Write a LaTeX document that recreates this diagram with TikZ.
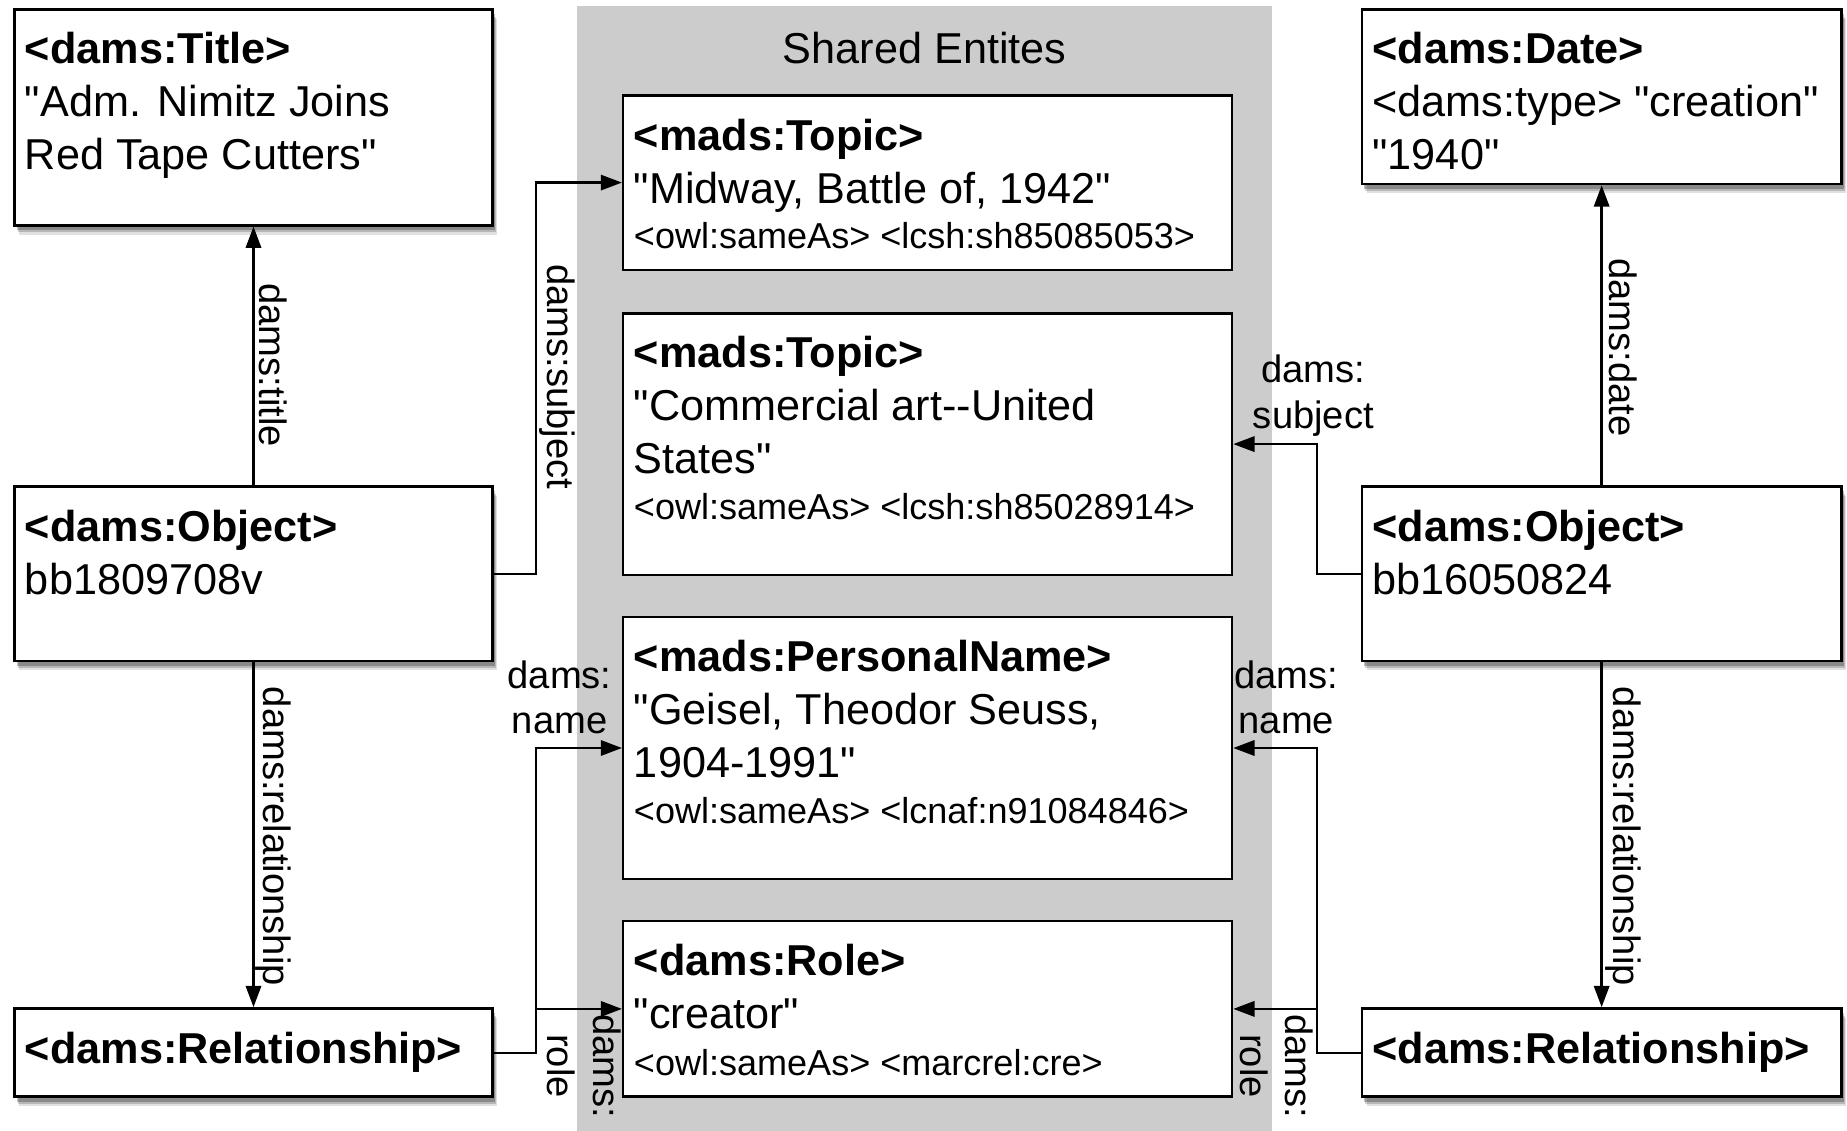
\documentclass[tikz,border=0pt]{standalone}
\usepackage{fontspec}
\newfontfamily\lsans{Liberation Sans}
\usetikzlibrary{arrows.meta,shadows}
\definecolor{band}{RGB}{204,204,204}
\begin{document}
\begin{tikzpicture}[x=1pt,y=-1pt,
  box/.style={draw=black, line width=2.4pt, fill=white, rectangle, inner sep=0pt, anchor=north west},
  outerbox/.style={box,
    drop shadow={shadow xshift=4pt, shadow yshift=-8pt, opacity=0.12, fill=black},
    drop shadow={shadow xshift=3pt, shadow yshift=-6pt, opacity=0.18, fill=black},
    drop shadow={shadow xshift=2pt, shadow yshift=-4pt, opacity=0.25, fill=black}},
  hd/.style={font=\fontsize{36.7}{44}\lsans\bfseries, anchor=base west, inner sep=0pt},
  tx/.style={font=\fontsize{36.7}{44}\lsans, anchor=base west, inner sep=0pt},
  sm/.style={font=\fontsize{30.6}{36}\lsans, anchor=base west, inner sep=0pt},
  lb/.style={font=\fontsize{32.4}{38.5}\lsans, inner sep=0pt, align=center},
  conn/.style={line width=2pt, -{Triangle[length=18pt,width=13pt]}}
]
\useasboundingbox[fill=white] (0,0) rectangle (1568,960);

% shared band
\node[fill=band, minimum width=590pt, minimum height=955pt, anchor=north west, inner sep=0pt] (shared) at (490,5) {};
\node[tx, anchor=base] (sharedT) at (785,54) {Shared Entites};

% outer boxes
\node[outerbox, minimum width=406pt, minimum height=183pt] (title) at (11,7) {};
\node[outerbox, minimum width=406pt, minimum height=148pt] (objL) at (11,412) {};
\node[outerbox, minimum width=406pt, minimum height=75pt] (relL) at (11,855) {};
\node[outerbox, minimum width=407pt, minimum height=148pt] (date) at (1155,7) {};
\node[outerbox, minimum width=407pt, minimum height=148pt] (objR) at (1155,412) {};
\node[outerbox, minimum width=407pt, minimum height=75pt] (relR) at (1155,855) {};

% inner boxes
\node[box, line width=2pt, minimum width=517pt, minimum height=148pt] (topic1) at (528,80) {};
\node[box, line width=2pt, minimum width=517pt, minimum height=222pt] (topic2) at (528,265) {};
\node[box, line width=2pt, minimum width=517pt, minimum height=222pt] (pn) at (528,523) {};
\node[box, line width=2pt, minimum width=517pt, minimum height=149pt] (role) at (528,781) {};

% texts outer left
\node[hd] (titleA) at (21,54) {<dams:Title>};
\node[tx] (titleB) at (21,99) {"Adm. Nimitz Joins};
\node[tx] (titleC) at (21,144) {Red Tape Cutters"};
\node[hd] (objLA) at (21,460) {<dams:Object>};
\node[tx] (objLB) at (21,505) {bb1809708v};
\node[hd] (relLA) at (21,903) {<dams:Relationship>};

% texts outer right
\node[hd] (dateA) at (1165,54) {<dams:Date>};
\node[tx] (dateB) at (1165,99) {<dams:type> "creation"};
\node[tx] (dateC) at (1165,144) {"1940"};
\node[hd] (objRA) at (1165,460) {<dams:Object>};
\node[tx] (objRB) at (1165,505) {bb16050824};
\node[hd] (relRA) at (1165,903) {<dams:Relationship>};

% texts inner
\node[hd] (t1A) at (538,128) {<mads:Topic>};
\node[tx] (t1B) at (538,173) {"Midway, Battle of, 1942"};
\node[sm] (t1C) at (538,211) {<owl:sameAs> <lcsh:sh85085053>};
\node[hd] (t2A) at (538,312) {<mads:Topic>};
\node[tx] (t2B) at (538,357) {"Commercial art--United};
\node[tx] (t2C) at (538,402) {States"};
\node[sm] (t2D) at (538,441) {<owl:sameAs> <lcsh:sh85028914>};
\node[hd] (pnA) at (538,570) {<mads:PersonalName>};
\node[tx] (pnB) at (538,615) {"Geisel, Theodor Seuss,};
\node[tx] (pnC) at (538,660) {1904-1991"};
\node[sm] (pnD) at (538,699) {<owl:sameAs> <lcnaf:n91084846>};
\node[hd] (roleA) at (538,828) {<dams:Role>};
\node[tx] (roleB) at (538,873) {"creator"};
\node[sm] (roleC) at (538,913) {<owl:sameAs> <marcrel:cre>};

% junction columns
\coordinate (jl) at (455,0);
\coordinate (jr) at (1118,0);

% connectors
\draw[conn] (objL.north) -- (title.south);
\draw[conn] (objL.south) -- (relL.north);
\draw[conn] (objR.north) -- (date.south);
\draw[conn] (objR.south) -- (relR.north);
\draw[conn] (objL.east) -- (jl |- objL.east) |- (topic1.west);
\draw[conn] (relL.east) -- (jl |- relL.east) |- (pn.west);
\draw[conn] (jl |- role.west) -- (role.west);
\draw[conn] (objR.west) -- (jr |- objR.west) |- (topic2.east);
\draw[conn] (relR.west) -- (jr |- relR.west) |- (pn.east);
\draw[conn] (jr |- role.east) -- (role.east);

% labels
\node[lb, rotate=-90] (lTitle) at (232,310) {dams:title};
\node[lb, rotate=-90] (lRelL) at (232,710) {dams:relationship};
\node[lb, rotate=-90] (lSubL) at (473,320) {dams:subject};
\node[lb, rotate=-90] (lDate) at (1378,295) {dams:date};
\node[lb, rotate=-90] (lRelR) at (1378,710) {dams:relationship};
\node[lb] (lNameL) at (475,592) {dams:\\name};
\node[lb] (lNameR) at (1092,592) {dams:\\name};
\node[lb] (lSubR) at (1115,336) {dams:\\subject};
\node[lb, rotate=-90] (lRoleL) at (496,905) {dams:\\role};
\node[lb, rotate=-90] (lRoleR) at (1084,905) {dams:\\role};
\end{tikzpicture}
\end{document}
